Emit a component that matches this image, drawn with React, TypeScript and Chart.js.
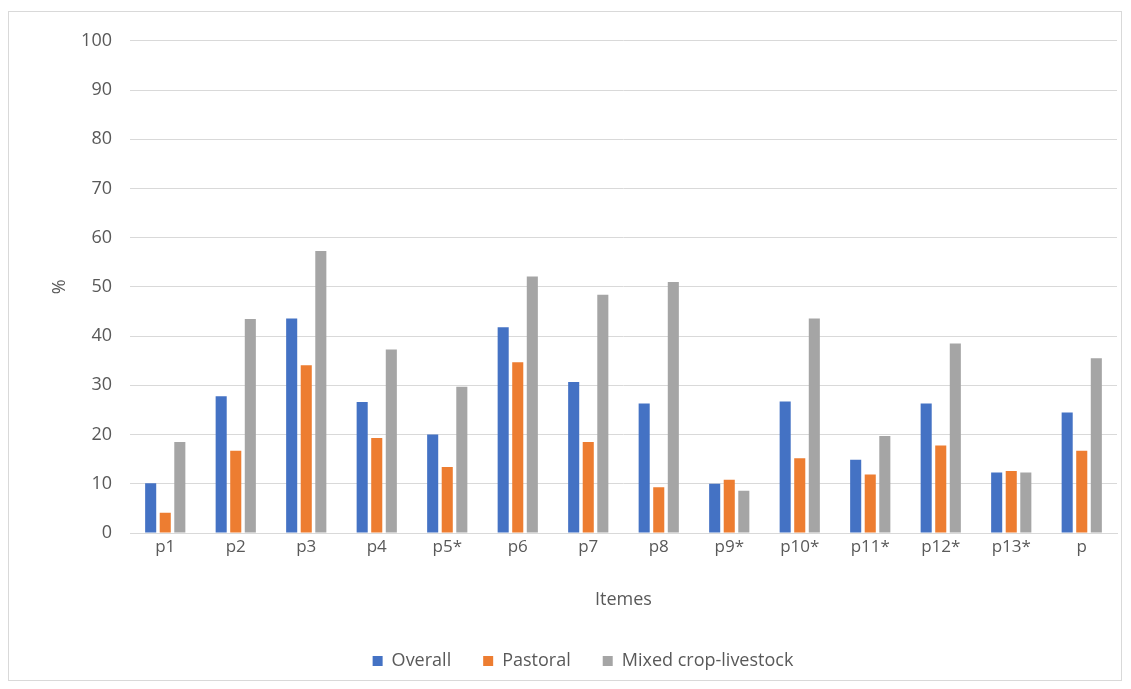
import React, { useEffect, useRef } from "react";
import { Chart, registerables } from "chart.js";

Chart.register(...registerables);

const categories = ["p1", "p2", "p3", "p4", "p5*", "p6", "p7", "p8", "p9*", "p10*", "p11*", "p12*", "p13*", "p"];
const overall = [10.1, 27.8, 43.6, 26.6, 20.0, 41.8, 30.7, 26.3, 10.0, 26.7, 14.9, 26.3, 12.3, 24.5];
const pastoral = [4.1, 16.7, 34.1, 19.3, 13.4, 34.7, 18.5, 9.3, 10.8, 15.2, 11.9, 17.8, 12.6, 16.7];
const mixed = [18.5, 43.5, 57.3, 37.3, 29.7, 52.1, 48.4, 51.0, 8.6, 43.6, 19.7, 38.5, 12.3, 35.5];
const seriesNames = ["Overall", "Pastoral", "Mixed crop-livestock"];
const seriesColors = ["#4472C4", "#ED7D31", "#A5A5A5"];

const FONT = "'Open Sans', 'DejaVu Sans', sans-serif";
const TEXT = "#595959";

export default function App() {
  const ref = useRef<HTMLCanvasElement | null>(null);
  useEffect(() => {
    if (!ref.current) return;
    const values = [overall, pastoral, mixed];
    const chart = new Chart(ref.current, {
      type: "bar",
      data: {
        labels: categories,
        datasets: seriesNames.map((n, i) => ({
          label: n,
          data: values[i],
          backgroundColor: seriesColors[i],
          borderWidth: 0,
          categoryPercentage: 0.62,
          barPercentage: 0.76,
        })),
      },
      options: {
        animation: false,
        responsive: true,
        maintainAspectRatio: false,
        layout: { padding: { left: 40, right: 4, top: 27, bottom: 0 } },
        plugins: {
          tooltip: { enabled: false },
          legend: {
            position: "bottom",
            labels: {
              boxWidth: 10,
              boxHeight: 10,
              padding: 32,
              color: TEXT,
              font: { family: FONT, size: 18 },
            },
          },
        },
        scales: {
          x: {
            grid: { display: false },
            border: { display: true, color: "#d9d9d9", width: 1 },
            ticks: { color: TEXT, font: { family: FONT, size: 17 }, padding: -4 },
            title: {
              display: true,
              text: "Itemes",
              color: TEXT,
              font: { family: FONT, size: 18 },
              padding: { top: 10, bottom: 9 },
            },
            afterFit: (s: any) => {
              s.height = 87;
            },
          },
          y: {
            min: 0,
            max: 100,
            ticks: { stepSize: 10, color: TEXT, font: { family: FONT, size: 18 }, padding: 18 },
            grid: { color: "#d9d9d9", lineWidth: 1, drawTicks: false },
            border: { display: false },
            title: {
              display: true,
              text: "%",
              color: TEXT,
              font: { family: FONT, size: 18 },
              padding: 0,
            },
            afterFit: (s: any) => {
              s.width = 81;
            },
          },
        },
      },
    });
    return () => chart.destroy();
  }, []);
  return (
    <div
      style={{
        width: 1114,
        height: 670,
        marginTop: 3,
        border: "1px solid #d9d9d9",
        boxSizing: "border-box",
        position: "relative",
        background: "#fff",
      }}
    >
      <canvas ref={ref} />
    </div>
  );
}
